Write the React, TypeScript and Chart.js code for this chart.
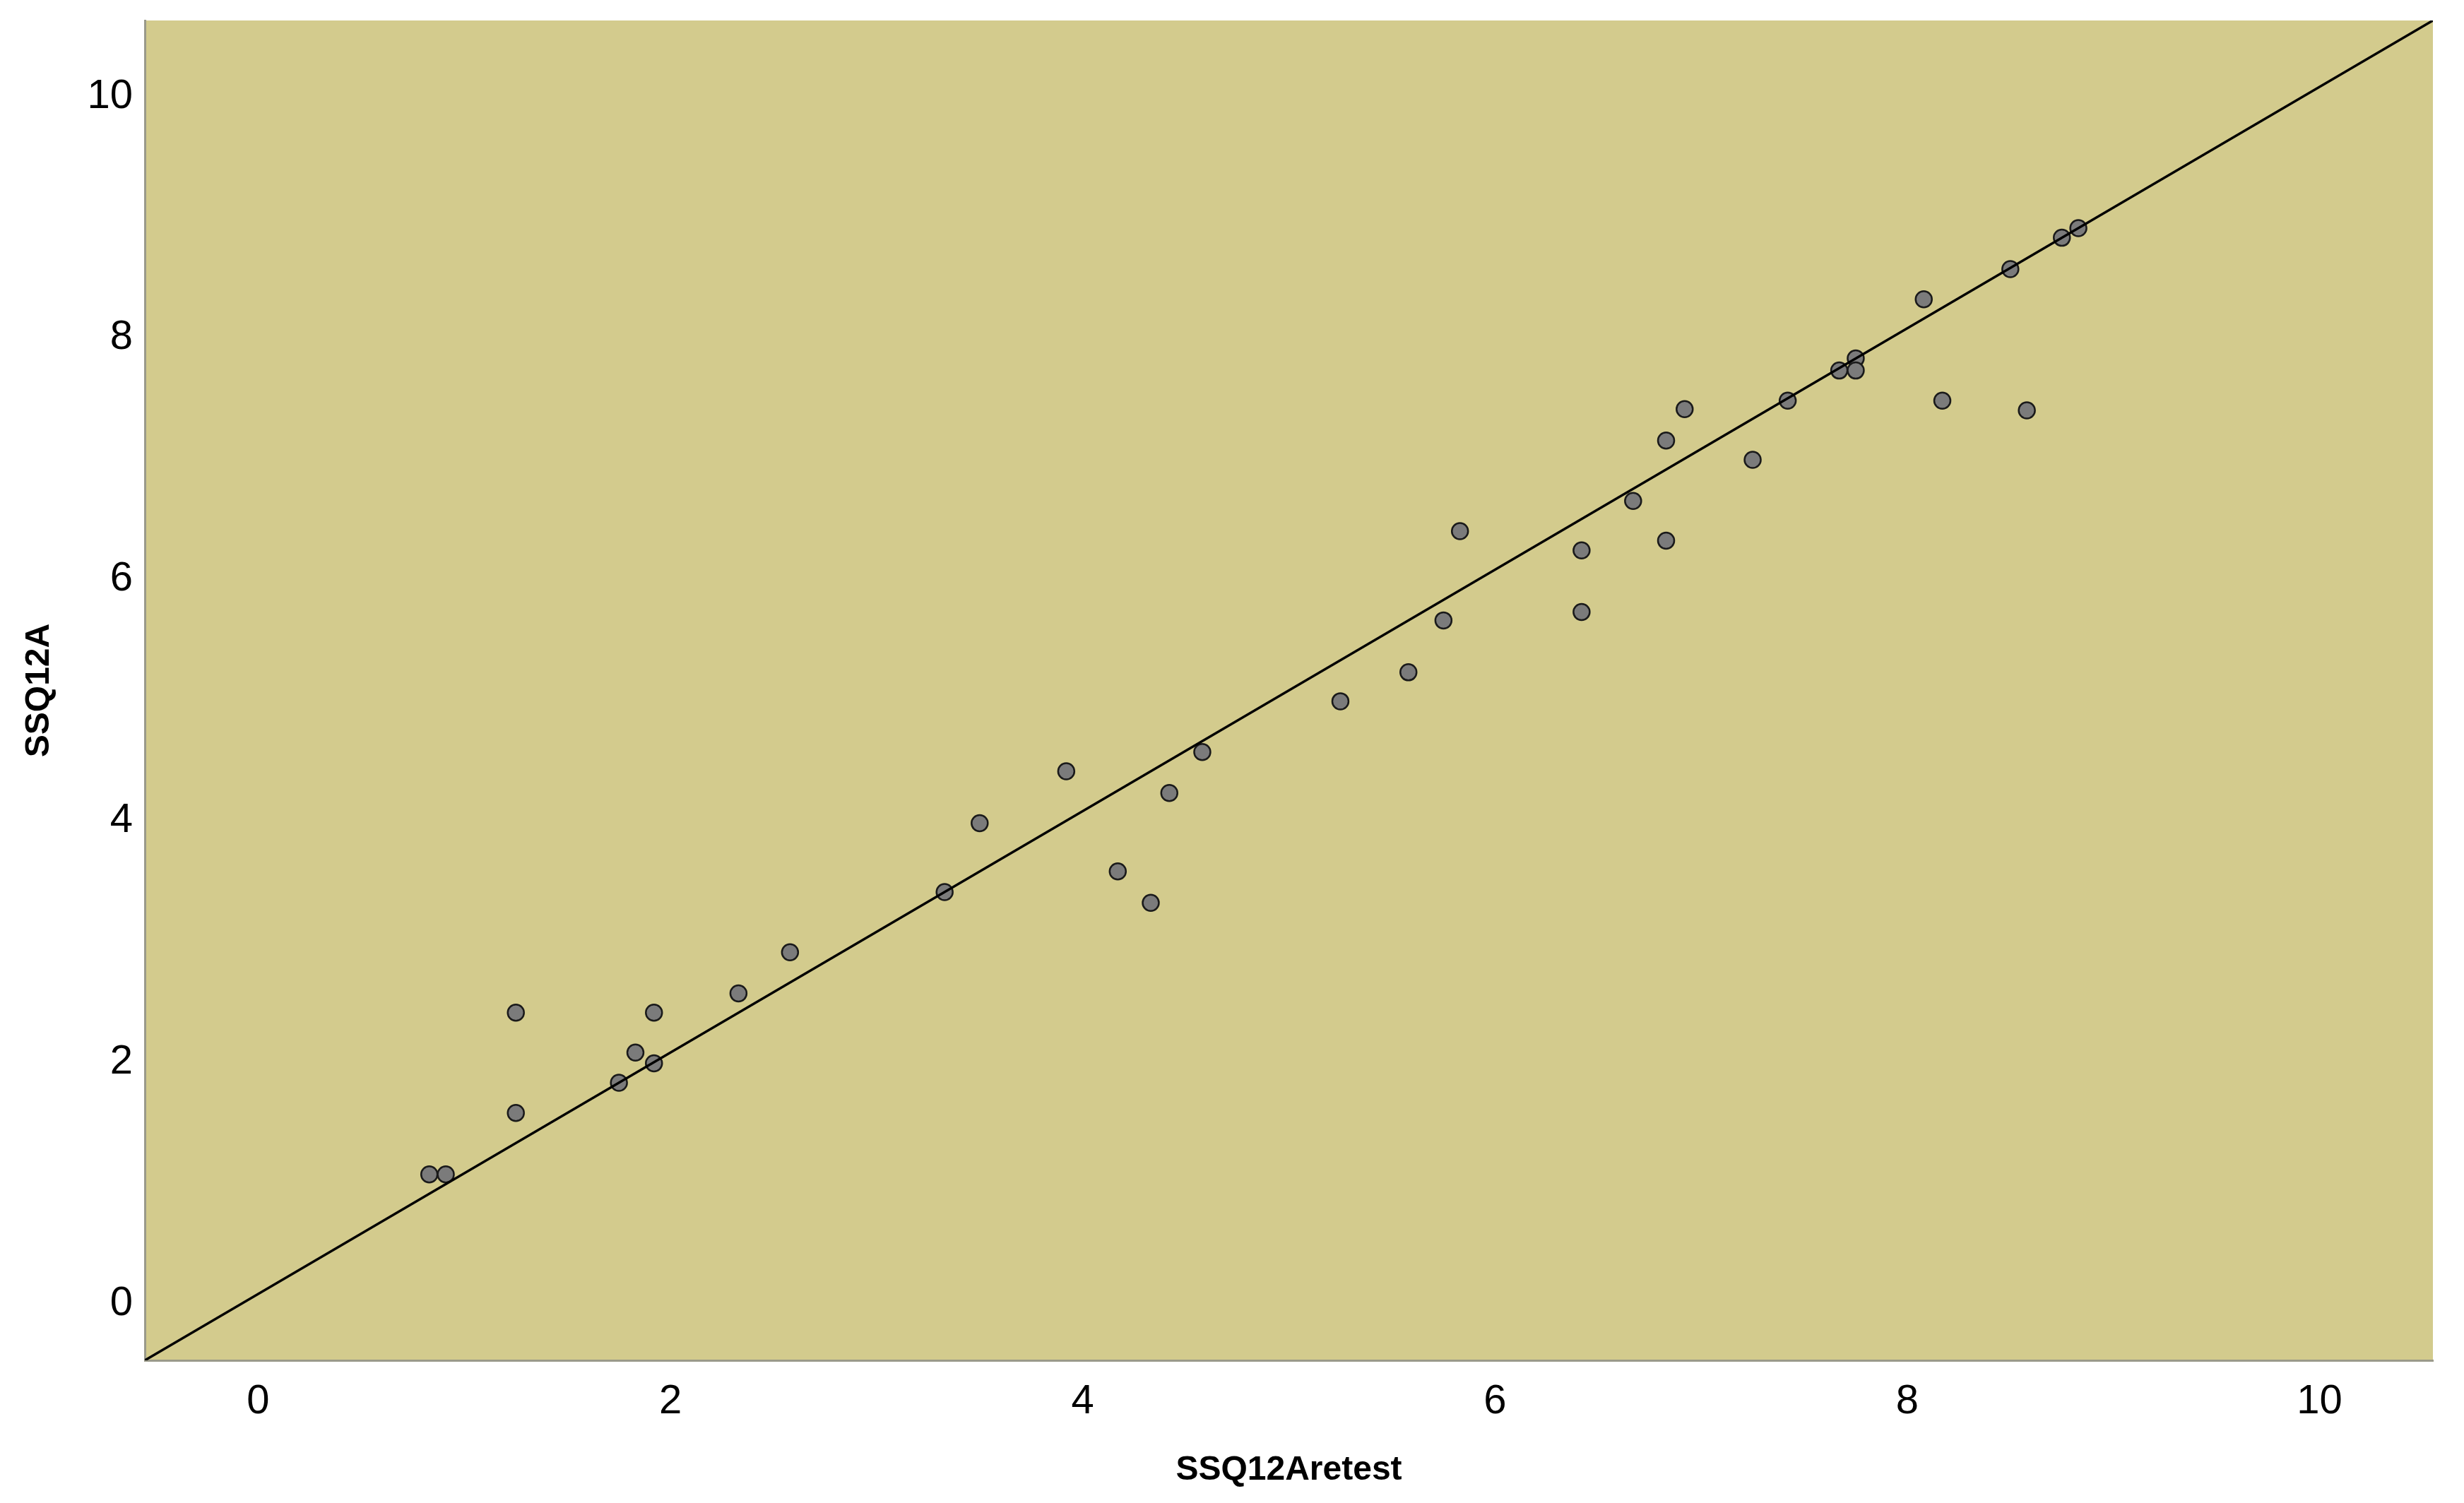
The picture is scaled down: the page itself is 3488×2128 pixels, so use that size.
import React, { useEffect, useRef } from "react";
import { Chart, registerables } from "chart.js";

Chart.register(...registerables);

// SSQ12Aretest (x) and SSQ12A (y) values
const retestValues: number[] = [
  0.83, 0.91, 1.25, 1.25, 1.75, 1.83, 1.92, 1.92, 2.33, 2.58,
  3.33, 3.5, 3.92, 4.17, 4.33, 4.42, 4.58,
  5.25, 5.58, 5.75, 5.83, 6.42, 6.42, 6.67, 6.83,
  6.92, 6.83, 7.25, 7.42, 7.67, 7.75, 7.75, 8.08, 8.17, 8.5, 8.58, 8.75, 8.83,
];
const ssqValues: number[] = [
  1.04, 1.04, 2.38, 1.55, 1.8, 2.05, 2.38, 1.96, 2.54, 2.88,
  3.38, 3.95, 4.38, 3.55, 3.29, 4.2, 4.54,
  4.96, 5.2, 5.63, 6.37, 6.21, 5.7, 6.62, 6.29,
  7.38, 7.12, 6.96, 7.45, 7.7, 7.8, 7.7, 8.29, 7.45, 8.54, 7.37, 8.8, 8.88,
];

// fit line endpoints
const fitLineX: number[] = [-0.55, 10.55];
const fitLineY: number[] = [-0.5, 10.6];

const xTicks: number[] = [0, 2, 4, 6, 8, 10];
const yTicks: number[] = [0, 2, 4, 6, 8, 10];

const X_TITLE = "SSQ12Aretest";
const Y_TITLE = "SSQ12A";

const bgPlugin = {
  id: "plotBg",
  beforeDraw(chart: any) {
    const { ctx, chartArea } = chart;
    if (!chartArea) return;
    ctx.save();
    ctx.fillStyle = "#D3CB8D";
    ctx.fillRect(chartArea.left, chartArea.top, chartArea.right - chartArea.left, chartArea.bottom - chartArea.top);
    ctx.restore();
  },
};

export default function App() {
  const canvasRef = useRef<HTMLCanvasElement | null>(null);

  useEffect(() => {
    const canvas = canvasRef.current;
    if (!canvas) return;
    const points = retestValues.map((x, i) => ({ x, y: ssqValues[i] }));
    const line = fitLineX.map((x, i) => ({ x, y: fitLineY[i] }));
    const tickFont = { family: "'Liberation Sans', Arial, sans-serif", size: 58 };
    const titleFont = { family: "'Liberation Sans', Arial, sans-serif", size: 48, weight: "bold" as const };

    const chart = new Chart(canvas, {
      type: "scatter",
      data: {
        datasets: [
          {
            label: "fit",
            data: line,
            showLine: true,
            pointRadius: 0,
            borderColor: "#000000",
            borderWidth: 3.5,
            fill: false,
          } as any,
          {
            label: "points",
            data: points,
            pointRadius: 11.5,
            pointBackgroundColor: "#7b7b7b",
            pointBorderColor: "#1a1a1a",
            pointBorderWidth: 2.5,
            showLine: false,
          } as any,
        ],
      },
      options: {
        responsive: false,
        animation: false,
        devicePixelRatio: 1,
        layout: { padding: { top: 29, right: 44, left: 0, bottom: 0 } },
        plugins: {
          legend: { display: false },
          tooltip: { enabled: false },
        },
        scales: {
          x: {
            type: "linear",
            min: -0.55,
            max: 10.55,
            grid: { display: false, drawTicks: false },
            border: { display: true, color: "#9a9a8a", width: 3 },
            ticks: { color: "#000", font: tickFont, padding: 24, maxRotation: 0 },
            afterBuildTicks: (s: any) => {
              s.ticks = xTicks.map((v) => ({ value: v }));
            },
            afterFit: (s: any) => {
              s.height = 202;
              s.paddingLeft = 0;
              s.paddingRight = 0;
            },
            title: { display: true, text: X_TITLE, color: "#000", font: titleFont, padding: { top: 0, bottom: 17 } },
          },
          y: {
            type: "linear",
            min: -0.5,
            max: 10.6,
            grid: { display: false, drawTicks: false },
            border: { display: true, color: "#9a9a8a", width: 3 },
            ticks: { color: "#000", font: tickFont, padding: 17, labelOffset: 5 },
            afterBuildTicks: (s: any) => {
              s.ticks = yTicks.map((v) => ({ value: v }));
            },
            afterFit: (s: any) => {
              s.width = 205;
              s.paddingTop = 0;
              s.paddingBottom = 0;
            },
            title: { display: true, text: Y_TITLE, color: "#000", font: titleFont, padding: { top: 27, bottom: 0 } },
          },
        },
      },
      plugins: [bgPlugin],
    });
    return () => chart.destroy();
  }, []);

  return (
    <div style={{ position: "absolute", left: 0, top: 0, width: 3488, height: 2128, background: "#fff" }}>
      <canvas ref={canvasRef} width={3488} height={2128} style={{ display: "block", width: 3488, height: 2128 }} />
    </div>
  );
}
